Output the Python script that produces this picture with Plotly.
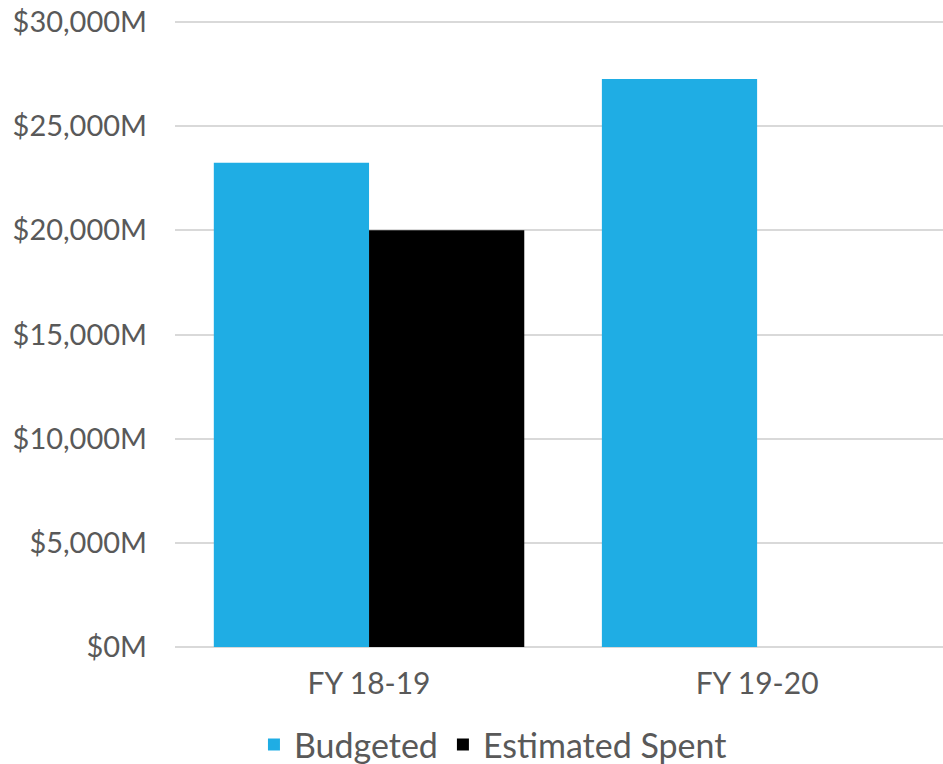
import plotly.graph_objects as go

categories = ["FY 18-19", "FY 19-20"]
budgeted = [23250, 27270]
estimated_spent = [20000, None]
y_tickvals = [0, 5000, 10000, 15000, 20000, 25000, 30000]
y_ticktext = ["$0M", "$5,000M", "$10,000M", "$15,000M", "$20,000M", "$25,000M", "$30,000M"]

font_family = "Century Gothic, Futura, Lato, DejaVu Sans, sans-serif"
text_color = "#595959"

fig = go.Figure()
fig.add_trace(go.Bar(name="Budgeted", x=categories, y=budgeted, marker_color="#1FADE4",
                     marker_line_width=0))
fig.add_trace(go.Bar(name="Estimated Spent", x=categories, y=estimated_spent, marker_color="#000000",
                     marker_line_width=0))

fig.update_layout(
    width=943, height=764,
    margin=dict(l=175, r=0, t=20, b=117, autoexpand=False),
    paper_bgcolor="white", plot_bgcolor="white",
    barmode="group", bargap=0.2, bargroupgap=0,
    font=dict(family=font_family, color=text_color, size=29),
    showlegend=True,
    legend=dict(orientation="h", x=0.414, xanchor="center", y=0.025, yanchor="middle",
                yref="container", font=dict(size=34, color=text_color), tracegroupgap=0),
    xaxis=dict(range=[-0.5, 1.479], showgrid=False, showline=False, ticks="",
               automargin=False, ticklabelstandoff=16,
               tickfont=dict(size=30, color=text_color)),
    yaxis=dict(range=[0, 30096], tickvals=y_tickvals, ticktext=y_ticktext,
               showgrid=True, gridcolor="#D9D9D9", gridwidth=1.5, zeroline=True,
               zerolinecolor="#D9D9D9", zerolinewidth=1.5, showline=False, ticks="",
               automargin=False, ticklabelstandoff=27, ticklabeloverflow="allow",
               tickfont=dict(size=29, color=text_color)),
)

fig.write_html("out.html", config={"displayModeBar": False},
               post_script="document.body.style.margin='0';")
